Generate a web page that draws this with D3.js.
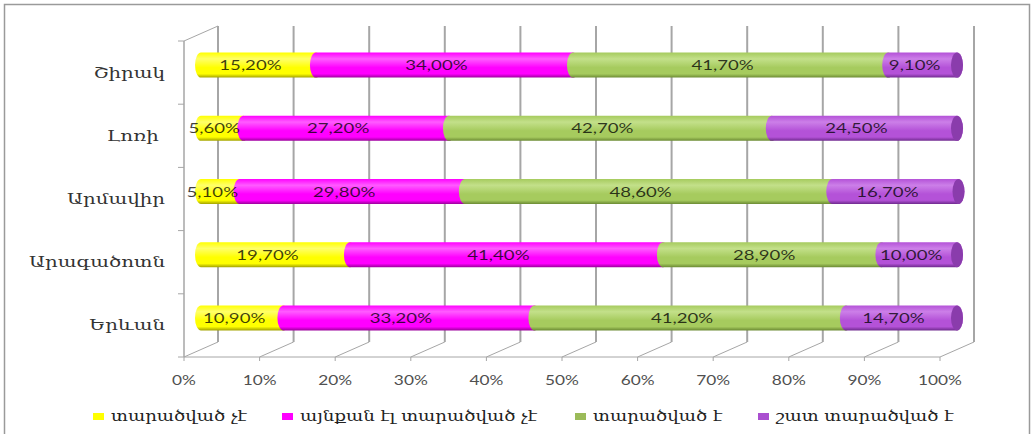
<!DOCTYPE html>
<html><head><meta charset="utf-8">
<script src="https://cdn.jsdelivr.net/npm/d3@7"></script>
<style>
html,body{margin:0;padding:0;background:#fff;}
svg{display:block;}
</style></head>
<body>
<svg id="chart" width="1034" height="434"></svg>
<script>
// ---- data ----
const categories = ["Շիրակ", "Լոռի ", "Արմավիր", "Արագածոտն", "Երևան"];
const seriesNames = ["տարածված չէ", "այնքան էլ տարածված չէ", "տարածված է", "շատ տարածված է"];
const notSpread      = [15.2, 5.6, 5.1, 19.7, 10.9];
const notThatSpread  = [34.0, 27.2, 29.8, 41.4, 33.2];
const spread         = [41.7, 42.7, 48.6, 28.9, 41.2];
const verySpread     = [9.1, 24.5, 16.7, 10.0, 14.7];
const tickValues = [0, 10, 20, 30, 40, 50, 60, 70, 80, 90, 100];
const seriesValues = [notSpread, notThatSpread, spread, verySpread];

// ---- styles ----
const colors = [
  {base:"#ffff00", light:"#ffff6a", dark:"#a3a300", cap:"#c8c800"},
  {base:"#ff00ff", light:"#ff5cff", dark:"#9c009c", cap:"#c000c0"},
  {base:"#a6cb5e", light:"#c3e08a", dark:"#6b8a33", cap:"#7e9e42"},
  {base:"#b452d8", light:"#cc7fe8", dark:"#6f2a8e", cap:"#8a3cac"}
];
const legendColors = ["#ffff00", "#ff00ff", "#9bbb59", "#aa4fd0"];
const numFont = "Lato, 'Open Sans', sans-serif";
const armFont = "'DejaVu Serif', serif";
const SX = 1.33;

const svg = d3.select("#chart");
svg.append("rect").attr("x",4.5).attr("y",4.5).attr("width",1025).attr("height",460)
  .attr("fill","#fff").attr("stroke","#9a9a9a").attr("stroke-width",1.5);

// geometry
const fx0 = 184, fx1 = 940, fyTop = 41, fyBot = 357;
const depthX = 34, depthY = -15;
const xFront = d3.scaleLinear().domain([0,100]).range([fx0, fx1]);
const xBar = d3.scaleLinear().domain([0,100]).range([fx0 + depthX/2, fx1 + depthX/2]);
const yBand = d3.scaleBand().domain(categories).range([fyTop, fyBot]);
const barH = 25;
const rx = 6;

const defs = svg.append("defs");
colors.forEach((c,i)=>{
  const g = defs.append("linearGradient").attr("id","g"+i).attr("x1",0).attr("y1",0).attr("x2",0).attr("y2",1);
  g.append("stop").attr("offset","0").attr("stop-color",c.base);
  g.append("stop").attr("offset","0.25").attr("stop-color",c.light);
  g.append("stop").attr("offset","0.6").attr("stop-color",c.base);
  g.append("stop").attr("offset","0.85").attr("stop-color",c.base);
  g.append("stop").attr("offset","1").attr("stop-color",c.dark);
});

const grid = svg.append("g").attr("stroke","#a6a6a6").attr("fill","none");
tickValues.forEach(t=>{
  grid.append("line").attr("x1",xFront(t)+depthX).attr("x2",xFront(t)+depthX)
    .attr("y1",fyTop+depthY).attr("y2",fyBot+depthY).attr("stroke-width",2);
  grid.append("line").attr("x1",xFront(t)).attr("y1",fyBot)
    .attr("x2",xFront(t)+depthX).attr("y2",fyBot+depthY).attr("stroke-width",1);
  grid.append("line").attr("x1",xFront(t)).attr("x2",xFront(t))
    .attr("y1",fyBot).attr("y2",fyBot+4).attr("stroke-width",1);
});
grid.append("line").attr("x1",fx0).attr("x2",fx1).attr("y1",fyBot).attr("y2",fyBot).attr("stroke-width",1);
grid.append("line").attr("x1",fx0).attr("x2",fx0).attr("y1",fyTop).attr("y2",fyBot).attr("stroke-width",1.5);
grid.append("line").attr("x1",fx0).attr("y1",fyTop).attr("x2",fx0+depthX).attr("y2",fyTop+depthY).attr("stroke-width",1);
const bounds = categories.map(c=>yBand(c)).concat([fyBot]);
bounds.forEach(y=>{
  grid.append("line").attr("x1",fx0-6).attr("x2",fx0).attr("y1",y).attr("y2",y).attr("stroke-width",1);
});

// bars
const bars = svg.append("g");
const labels = svg.append("g");
categories.forEach((cat,ci)=>{
  const cy = yBand(cat) + yBand.bandwidth()/2 + depthY/2;
  const top = cy - barH/2, bot = cy + barH/2, ry = barH/2;
  let cum = 0;
  seriesValues.forEach((arr,si)=>{
    const v = arr[ci];
    const a = xBar(cum), b = xBar(cum + v);
    const p = `M${a},${top} L${b},${top} A${rx},${ry} 0 0 1 ${b},${bot} L${a},${bot} A${rx},${ry} 0 0 1 ${a},${top} Z`;
    bars.append("path").attr("d",p).attr("fill",`url(#g${si})`);
    if (si === seriesValues.length-1) {
      bars.append("ellipse").attr("cx",b).attr("cy",cy).attr("rx",rx).attr("ry",ry)
        .attr("fill",colors[si].cap);
    }
    const mid = xBar(cum + v/2) - 8;
    labels.append("text")
      .attr("transform",`translate(${mid},${cy+5}) scale(${SX},1)`)
      .attr("text-anchor","middle")
      .attr("font-family",numFont).attr("font-size",14)
      .attr("fill","#000").attr("fill-opacity",0.75)
      .text(v.toFixed(2).replace(".",",") + "%");
    cum += v;
  });
});

// category labels
categories.forEach(cat=>{
  svg.append("text")
    .attr("transform",`translate(165,${yBand(cat)+yBand.bandwidth()/2+5}) scale(1.32,1)`)
    .attr("text-anchor","end").attr("xml:space","preserve").style("white-space","pre")
    .attr("font-family",armFont).attr("font-size",15).attr("fill","#333")
    .text(cat);
});

// tick labels
tickValues.forEach(t=>{
  svg.append("text")
    .attr("transform",`translate(${xFront(t)},${385}) scale(${SX},1)`)
    .attr("text-anchor","middle")
    .attr("font-family",numFont).attr("font-size",13).attr("fill","#505050")
    .text(t + "%");
});

// legend
const legendX = [93, 282, 575, 758];
seriesNames.forEach((n,i)=>{
  svg.append("rect").attr("x",legendX[i]).attr("y",413).attr("width",11).attr("height",7)
    .attr("fill",legendColors[i]);
  svg.append("text")
    .attr("transform",`translate(${legendX[i]+18},${421}) scale(1.3,1)`)
    .attr("font-family",armFont).attr("font-size",14).attr("fill","#222")
    .text(n);
});
</script>
</body></html>
